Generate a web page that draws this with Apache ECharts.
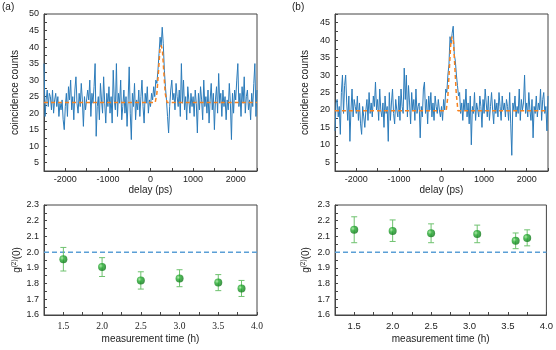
<!DOCTYPE html>
<html lang="en">
<head>
  <meta charset="UTF-8">
  <title>g2 measurements</title>
  <script src="https://cdn.jsdelivr.net/npm/echarts@6.0.0/dist/echarts.min.js"></script>
  <style>
    html, body { margin: 0; padding: 0; background: #fff; }
  </style>
</head>
<body>
  <div id="main" style="width: 556px;height:350px;"></div>

  <script type="text/javascript">
    // histogram bins: -2500 ps .. 2500 ps, 25 ps wide
    const delayStart = -2500;
    const binWidth = 25;

    // (a) coincidence counts per bin
    const countsA = [
      35, 19, 24, 27, 22, 26, 25, 21, 27, 20, 24, 26, 22, 25, 19, 23, 21, 24, 18, 15,
      22, 26, 19, 28, 24, 30, 21, 25, 18, 27, 31, 23, 20, 26, 22, 29, 24, 16, 25, 21,
      21, 27, 24, 30, 19, 26, 23, 28, 35, 13, 22, 25, 18, 29, 24, 20, 31, 23, 17, 26,
      22, 28, 20, 25, 17, 33, 24, 21, 35, 19, 26, 23, 30, 18, 22, 27, 20, 25, 16, 24,
      34, 20, 12, 26, 22, 29, 18, 24, 21, 27, 19, 25, 30, 22, 17, 26, 23, 28, 20, 24,
      22, 26, 24, 28, 25, 30, 29, 33, 38, 43, 40, 46, 41, 33, 28, 24, 19, 14, 22, 27,
      30, 24, 26, 21, 29, 25, 22, 27, 19, 35, 23, 30, 21, 25, 18, 28, 24, 20, 26, 22,
      25, 19, 27, 23, 14, 26, 21, 28, 24, 18, 30, 22, 25, 20, 27, 17, 24, 29, 21, 26,
      15, 24, 28, 20, 32, 23, 26, 19, 27, 22, 25, 18, 24, 21, 29, 23, 12, 26, 20, 27,
      24, 30, 35, 22, 26, 19, 28, 23, 31, 20, 25, 27, 21, 24, 18, 26, 22, 29, 35, 19, 27
    ];

    // (b) coincidence counts per bin
    const countsB = [
      14, 22, 23, 18, 21, 13, 25, 30, 19, 27, 30, 22, 17, 24, 11, 20, 26, 18, 23, 21,
      19, 24, 17, 22, 16, 13, 21, 18, 15, 20, 23, 17, 25, 19, 22, 18, 24, 21, 28, 20,
      23, 17, 26, 20, 18, 22, 15, 24, 19, 21, 11, 25, 17, 22, 26, 19, 16, 23, 20, 18,
      24, 17, 26, 21, 19, 32, 23, 30, 18, 27, 22, 16, 25, 20, 23, 17, 26, 19, 21, 22,
      12, 21, 18, 26, 28, 19, 23, 16, 24, 20, 25, 18, 22, 17, 24, 21, 19, 23, 20, 18,
      21, 17, 23, 20, 26, 25, 30, 33, 41, 39, 42, 44, 36, 34, 30, 27, 24, 25, 19, 22,
      17, 23, 20, 26, 18, 22, 16, 24, 10, 21, 19, 25, 17, 22, 20, 18, 24, 21, 15, 23,
      19, 26, 22, 18, 24, 17, 21, 25, 20, 16, 23, 19, 22, 18, 25, 21, 17, 24, 20, 22,
      18, 23, 21, 17, 25, 16, 7, 22, 20, 24, 18, 21, 19, 26, 17, 23, 20, 22, 30, 19,
      22, 18, 25, 20, 17, 23, 12, 21, 19, 24, 18, 22, 20, 26, 17, 23, 25, 19, 21, 14, 24
    ];

    // fitted curves (dashed orange)
    const fitA_x = [-2500, 110, 150, 190, 220, 250, 280, 310, 345, 390, 2500];
    const fitA_y = [23.2, 23.2, 26, 33, 39, 40.5, 39, 33, 26, 23.2, 23.2];
    const fitB_x = [-2500, 110, 150, 190, 220, 250, 280, 310, 345, 385, 2500];
    const fitB_y = [19.8, 19.8, 24, 33, 39.5, 41, 39.5, 33, 25, 19.8, 19.8];

    // g2(0) vs measurement time
    const timeA = [1.5, 2.0, 2.5, 3.0, 3.5, 3.8];
    const g2A = [1.955, 1.905, 1.82, 1.832, 1.807, 1.768];
    const g2A_lo = [1.88, 1.845, 1.765, 1.78, 1.755, 1.718];
    const g2A_hi = [2.03, 1.965, 1.875, 1.888, 1.857, 1.82];

    const timeB = [1.5, 2.0, 2.5, 3.1, 3.6, 3.75];
    const g2B = [2.143, 2.135, 2.12, 2.115, 2.072, 2.09];
    const g2B_lo = [2.06, 2.068, 2.06, 2.06, 2.022, 2.04];
    const g2B_hi = [2.225, 2.205, 2.18, 2.172, 2.122, 2.142];

    const classical = 2.0;

    const textColor = '#222';
    const sans = 'Liberation Sans';
    const serif = 'Liberation Serif';

    function toPairs(counts) {
      return counts.map((c, i) => [delayStart + i * binWidth, c]);
    }
    function zip(xs, ys) {
      return xs.map((x, i) => [x, ys[i]]);
    }

    let myChart = echarts.init(document.getElementById('main'));

    const gridBox = { show: true, borderColor: '#444', borderWidth: 1, backgroundColor: 'transparent' };
    const grids = [
      Object.assign({ left: 44, top: 14, width: 213, height: 157 }, gridBox),
      Object.assign({ left: 335, top: 14, width: 213, height: 157 }, gridBox),
      Object.assign({ left: 44, top: 205, width: 213, height: 110 }, gridBox),
      Object.assign({ left: 335, top: 205, width: 212, height: 110 }, gridBox)
    ];

    const frameLine = { show: true, onZero: false, lineStyle: { color: '#444', width: 1 } };
    const innerTick = { show: true, inside: true, length: 3, lineStyle: { color: '#444' } };

    function delayAxis(gi) {
      return {
        type: 'value', gridIndex: gi, min: -2500, max: 2500, interval: 500,
        name: 'delay (ps)', nameLocation: 'middle', nameGap: 13,
        nameTextStyle: { fontFamily: sans, fontSize: 10, color: textColor },
        axisLine: frameLine, axisTick: innerTick,
        splitLine: { show: false },
        axisLabel: {
          fontFamily: sans, fontSize: 9, color: textColor, margin: 4,
          formatter: v => (v % 1000 === 0 && Math.abs(v) < 2500) ? String(v) : ''
        }
      };
    }
    function countsAxis(gi, max, nameGap) {
      return {
        type: 'value', gridIndex: gi, min: 2.5, max: max, interval: 2.5,
        name: 'coincidence counts', nameLocation: 'middle', nameGap: nameGap,
        nameTextStyle: { fontFamily: sans, fontSize: 10, color: textColor },
        axisLine: frameLine, axisTick: innerTick,
        splitLine: { show: false },
        axisLabel: {
          fontFamily: sans, fontSize: 9, color: textColor, margin: 5,
          formatter: v => (Math.abs(v % 5) < 1e-6) ? String(v) : ''
        }
      };
    }
    function timeAxis(gi, font) {
      return {
        type: 'value', gridIndex: gi, min: 1.25, max: 4.0, interval: 0.25,
        name: 'measurement time (h)', nameLocation: 'middle', nameGap: 19,
        nameTextStyle: { fontFamily: sans, fontSize: 10, color: textColor },
        axisLine: frameLine, axisTick: innerTick,
        splitLine: { show: false },
        axisLabel: {
          fontFamily: font, fontSize: 9.5, color: textColor, margin: 6,
          formatter: v => (Math.abs((v * 2) % 1) < 1e-6) ? v.toFixed(1) : ''
        }
      };
    }
    function g2Axis(gi, nameGap) {
      return {
        type: 'value', gridIndex: gi, min: 1.6, max: 2.3, interval: 0.05,
        name: '{g|g}{s|(2)}{g|(0)}', nameLocation: 'middle', nameGap: nameGap,
        nameTextStyle: {
          fontFamily: sans, fontSize: 10, color: textColor,
          rich: {
            g: { fontFamily: sans, fontSize: 10, color: textColor },
            s: { fontFamily: sans, fontSize: 6.5, color: textColor, verticalAlign: 'top', padding: [0, 0, 6, 0] }
          }
        },
        axisLine: frameLine, axisTick: innerTick,
        splitLine: { show: false },
        axisLabel: {
          fontFamily: sans, fontSize: 9, color: textColor, margin: 5,
          formatter: v => (Math.abs(Math.round(v * 10) - v * 10) < 1e-6) ? v.toFixed(1) : ''
        }
      };
    }

    function errorBars(xi, times, lo, hi) {
      return {
        type: 'custom', xAxisIndex: xi, yAxisIndex: xi, z: 3,
        data: times.map((t, i) => [t, lo[i], hi[i]]),
        renderItem: function (params, api) {
          const top = api.coord([api.value(0), api.value(2)]);
          const bot = api.coord([api.value(0), api.value(1)]);
          const cap = 3;
          const st = { stroke: '#6fc26f', lineWidth: 1 };
          return {
            type: 'group',
            children: [
              { type: 'line', shape: { x1: top[0], y1: top[1], x2: bot[0], y2: bot[1] }, style: st },
              { type: 'line', shape: { x1: top[0] - cap, y1: top[1], x2: top[0] + cap, y2: top[1] }, style: st },
              { type: 'line', shape: { x1: bot[0] - cap, y1: bot[1], x2: bot[0] + cap, y2: bot[1] }, style: st }
            ]
          };
        }
      };
    }

    const ball = new echarts.graphic.RadialGradient(0.35, 0.35, 0.7, [
      { offset: 0, color: '#9be595' },
      { offset: 0.4, color: '#22a82e' },
      { offset: 1, color: '#0e7418' }
    ]);

    function pointSeries(xi, times, vals) {
      return {
        type: 'scatter', xAxisIndex: xi, yAxisIndex: xi, z: 4,
        symbolSize: 8, data: zip(times, vals),
        itemStyle: { color: ball }
      };
    }
    function refLine(xi) {
      return {
        type: 'line', xAxisIndex: xi, yAxisIndex: xi, z: 2,
        showSymbol: false, silent: true,
        data: [[1.25, classical], [4.0, classical]],
        lineStyle: { color: '#5b9fd6', width: 1.5, type: [5, 3] }
      };
    }
    function traceSeries(xi, counts) {
      return {
        type: 'line', xAxisIndex: xi, yAxisIndex: xi, z: 2,
        showSymbol: false, silent: true, data: toPairs(counts),
        lineStyle: { color: '#2b7bba', width: 1 }
      };
    }
    function fitSeries(xi, xs, ys) {
      return {
        type: 'line', xAxisIndex: xi, yAxisIndex: xi, z: 3,
        showSymbol: false, silent: true, data: zip(xs, ys),
        lineStyle: { color: '#f7821f', width: 1.5, type: [4, 3] }
      };
    }

    let options = {
      animation: false,
      backgroundColor: '#fff',
      graphic: [
        { type: 'text', left: 2, top: 2, style: { text: '(a)', font: '10px Liberation Sans', fill: textColor } },
        { type: 'text', left: 292, top: 2, style: { text: '(b)', font: '10px Liberation Sans', fill: textColor } }
      ],
      grid: grids,
      xAxis: [delayAxis(0), delayAxis(1), timeAxis(2, serif), timeAxis(3, sans)],
      yAxis: [countsAxis(0, 50, 24), countsAxis(1, 47.5, 25), g2Axis(2, 19), g2Axis(3, 22)],
      series: [
        traceSeries(0, countsA),
        fitSeries(0, fitA_x, fitA_y),
        traceSeries(1, countsB),
        fitSeries(1, fitB_x, fitB_y),
        refLine(2),
        errorBars(2, timeA, g2A_lo, g2A_hi),
        pointSeries(2, timeA, g2A),
        refLine(3),
        errorBars(3, timeB, g2B_lo, g2B_hi),
        pointSeries(3, timeB, g2B)
      ]
    };

    myChart.setOption(options);
  </script>
</body>
</html>
